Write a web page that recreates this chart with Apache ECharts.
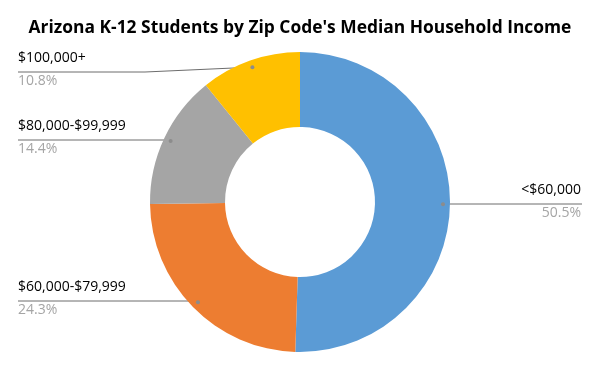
<!DOCTYPE html>
<html>
<head>
<meta charset="utf-8">
<script src="https://cdn.jsdelivr.net/npm/echarts@6/dist/echarts.min.js"></script>
<style>html,body{margin:0;padding:0;background:#fff}#c{width:600px;height:371px}</style>
</head>
<body>
<div id="c"></div>
<script>
const categories = ['<$60,000', '$60,000-$79,999', '$80,000-$99,999', '$100,000+'];
const shares = [50.5, 24.3, 14.4, 10.8];
const colors = ['#5B9BD5', '#ED7D31', '#A5A5A5', '#FFC000'];

const FONT = 'Open Sans';
const cx = 300, cy = 202, rIn = 75, rOut = 150, rDot = 143;
const total = shares.reduce((a, b) => a + b, 0);
const mids = [];
let acc = 0;
shares.forEach(v => { mids.push((acc + v / 2) / total); acc += v; });

const chart = echarts.init(document.getElementById('c'), null, {renderer: 'canvas'});
chart.setOption({
  backgroundColor: '#fff',
  animation: false,
  title: {
    text: "Arizona K-12 Students by Zip Code's Median Household Income",
    left: 'center', top: 15,
    textStyle: {fontFamily: FONT, fontSize: 17.4, fontWeight: 'bold', color: '#000'}
  },
  series: [{
    type: 'pie',
    center: [cx, cy],
    radius: [rIn, rOut],
    startAngle: 90,
    clockwise: true,
    avoidLabelOverlap: false,
    data: categories.map((n, i) => ({name: n, value: shares[i], itemStyle: {color: colors[i]}})),
    itemStyle: {borderWidth: 0},
    emphasis: {disabled: true},
    label: {
      show: true,
      position: 'outside',
      formatter: p => '{n|' + p.name + '}\n{p|' + p.value.toFixed(1) + '%}',
      rich: {
        n: {fontFamily: FONT, fontSize: 14, color: '#000', lineHeight: 23},
        p: {fontFamily: FONT, fontSize: 14, color: '#A5A5A5', lineHeight: 23}
      }
    },
    labelLine: {show: true, lineStyle: {color: '#6d6d6d', width: 1}},
    labelLayout: function (params) {
      const i = params.dataIndex;
      const ang = mids[i] * 2 * Math.PI;
      const dx = cx + rDot * Math.sin(ang);
      const dy = cy - rDot * Math.cos(ang);
      const right = Math.sin(ang) > 0;
      const lineYs = [204, 301, 140, 72];
      const ly = lineYs[i];
      let pts;
      if (i === 3) {
        pts = [[dx, dy], [145, ly], [18, ly]];
      } else if (right) {
        pts = [[dx, dy], [dx + 1, ly], [582, ly]];
      } else {
        pts = [[dx, dy], [dx - 1, ly], [18, ly]];
      }
      return {
        x: right ? 581 : 18,
        y: ly - 2.5,
        align: right ? 'right' : 'left',
        verticalAlign: 'middle',
        labelLinePoints: pts
      };
    }
  }],
  graphic: mids.map((m, i) => {
    const ang = m * 2 * Math.PI;
    return {
      type: 'circle',
      shape: {cx: cx + rDot * Math.sin(ang), cy: cy - rDot * Math.cos(ang), r: 2},
      style: {fill: '#8c8c8c'},
      z: 100
    };
  })
});
</script>
</body>
</html>
